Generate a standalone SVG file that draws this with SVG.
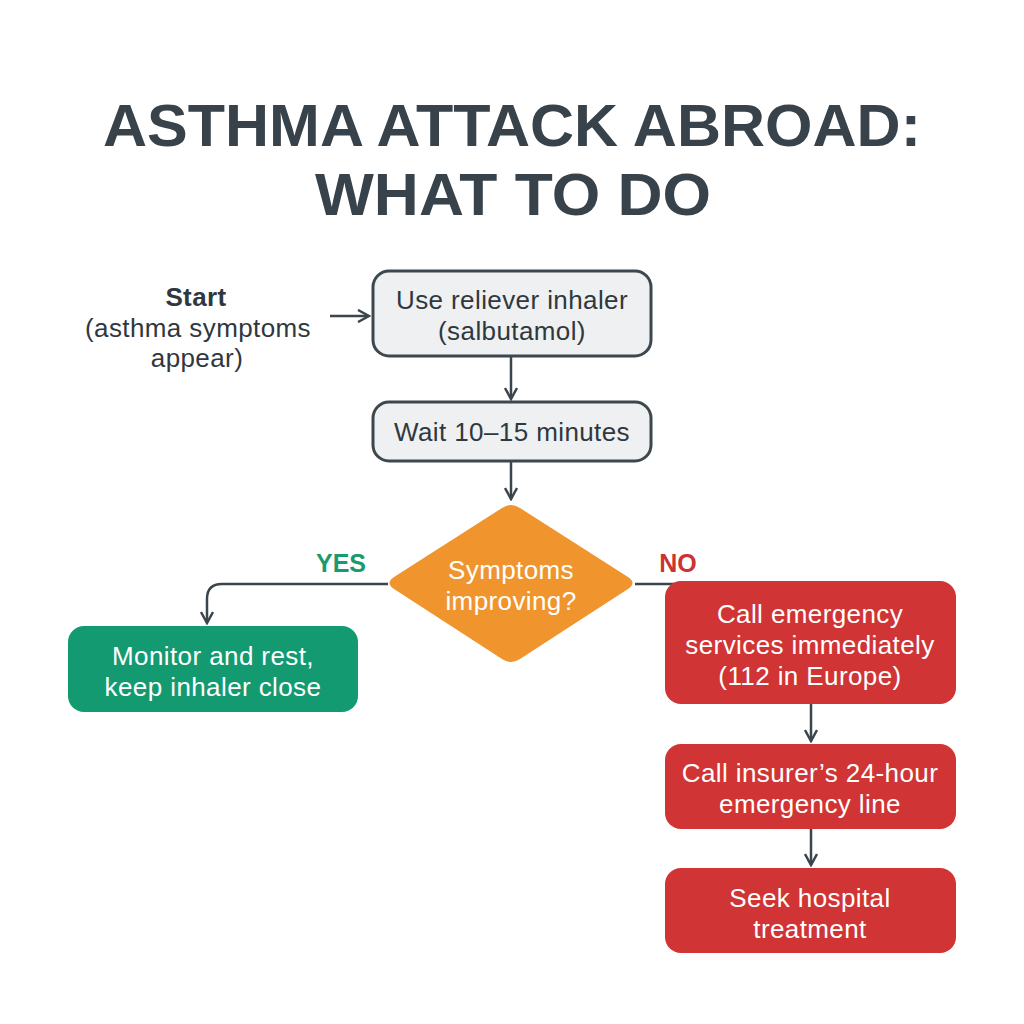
<svg xmlns="http://www.w3.org/2000/svg" width="1024" height="1024" viewBox="0 0 1024 1024">
<defs>
<style>
.t{font-family:"Liberation Sans",Arial,sans-serif;text-anchor:middle}
.title{font-size:60px;font-weight:700;fill:#37424a}
.lbl{font-size:26px;fill:#2f383e;letter-spacing:0.4px}
.w{font-size:26px;fill:#ffffff;letter-spacing:0.4px}
.grey{fill:#eef0f1;stroke:#3c474e;stroke-width:3}
.red{fill:#d03434}
.con{fill:none;stroke:#3a454c;stroke-width:2.5}
</style>
<marker id="ah" viewBox="0 0 14 14" refX="12" refY="7" markerWidth="14" markerHeight="14" markerUnits="userSpaceOnUse" orient="auto">
<path d="M1,1 L12,7 L1,13" fill="none" stroke="#3a454c" stroke-width="2.5"/>
</marker>
</defs>
<rect width="1024" height="1024" fill="#ffffff"/>
<g id="title">
<text class="t title" x="512" y="146" textLength="818" lengthAdjust="spacingAndGlyphs">ASTHMA ATTACK ABROAD:</text>
<text class="t title" x="513" y="215" textLength="396" lengthAdjust="spacingAndGlyphs">WHAT TO DO</text>
</g>
<g id="connectors">
<line class="con" x1="330" y1="316" x2="369" y2="316" marker-end="url(#ah)"/>
<line class="con" x1="511" y1="357" x2="511" y2="399" marker-end="url(#ah)"/>
<line class="con" x1="511" y1="462" x2="511" y2="499" marker-end="url(#ah)"/>
<path class="con" d="M388,584 L222,584 Q207,584 207,599 L207,623" marker-end="url(#ah)"/>
<line class="con" x1="635" y1="584" x2="680" y2="584"/>
<line class="con" x1="811" y1="704" x2="811" y2="741" marker-end="url(#ah)"/>
<line class="con" x1="811" y1="829" x2="811" y2="865" marker-end="url(#ah)"/>
</g>
<g id="start">
<text class="t lbl" x="196" y="306" font-weight="700">Start</text>
<text class="t lbl" x="198" y="337">(asthma symptoms</text>
<text class="t lbl" x="197" y="367">appear)</text>
</g>
<g id="use-inhaler">
<rect class="grey" x="373" y="271" width="278" height="85" rx="16"/>
<text class="t lbl" x="512" y="309">Use reliever inhaler</text>
<text class="t lbl" x="512" y="340">(salbutamol)</text>
</g>
<g id="wait">
<rect class="grey" x="373" y="402" width="278" height="59" rx="16"/>
<text class="t lbl" x="512" y="441">Wait 10–15 minutes</text>
</g>
<g id="decision">
<path d="M502,508 Q511,502 520,508 L628,577 Q637,583 628,589 L520,659 Q511,665 502,659 L394,589 Q385,583 394,577 Z" fill="#f0952e"/>
<text class="t w" x="511" y="579">Symptoms</text>
<text class="t w" x="511" y="610">improving?</text>
</g>
<g id="yes-label">
<text class="t" x="341" y="572" font-size="25" font-weight="700" fill="#1a9b6e">YES</text>
</g>
<g id="no-label">
<text class="t" x="678" y="572" font-size="25" font-weight="700" fill="#cc3333">NO</text>
</g>
<g id="monitor">
<rect x="68" y="626" width="290" height="86" rx="16" fill="#149a71"/>
<text class="t w" x="213" y="665">Monitor and rest,</text>
<text class="t w" x="213" y="696">keep inhaler close</text>
</g>
<g id="call-emergency">
<rect class="red" x="665" y="581" width="291" height="123" rx="16"/>
<text class="t w" x="810" y="623">Call emergency</text>
<text class="t w" x="810" y="654">services immediately</text>
<text class="t w" x="810" y="685">(112 in Europe)</text>
</g>
<g id="call-insurer">
<rect class="red" x="665" y="744" width="291" height="85" rx="16"/>
<text class="t w" x="810" y="782">Call insurer’s 24-hour</text>
<text class="t w" x="810" y="813">emergency line</text>
</g>
<g id="hospital">
<rect class="red" x="665" y="868" width="291" height="85" rx="16"/>
<text class="t w" x="810" y="907">Seek hospital</text>
<text class="t w" x="810" y="938">treatment</text>
</g>
</svg>
